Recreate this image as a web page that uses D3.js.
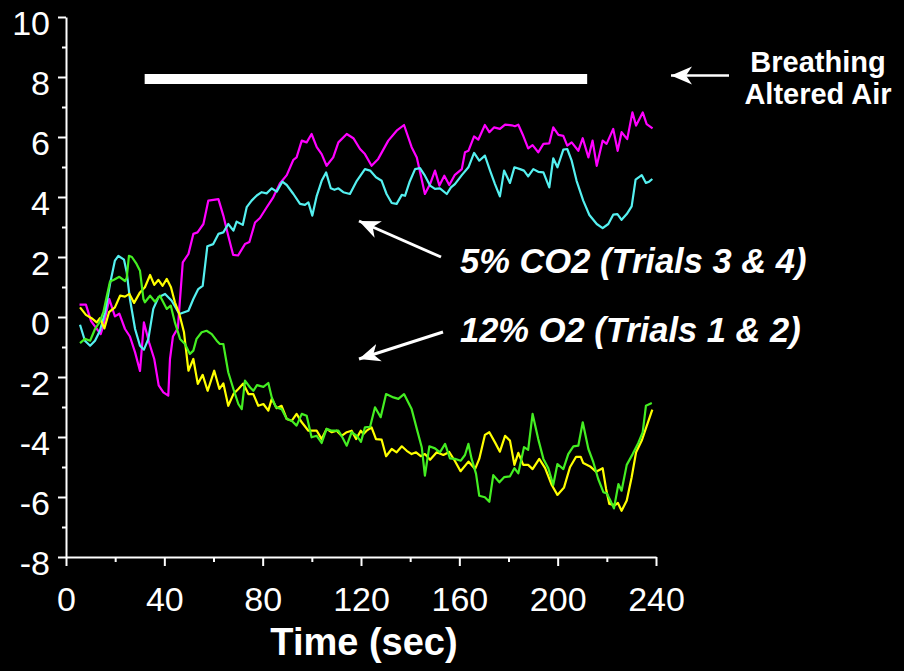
<!DOCTYPE html>
<html>
<head>
<meta charset="utf-8">
<script src="https://cdn.jsdelivr.net/npm/d3@7"></script>
<style>
  html, body { margin: 0; padding: 0; background: #000; }
  svg { display: block; }
</style>
</head>
<body>
<div id="chart"></div>
<script>
// ---------- data (time in sec, value) ----------
const xTicks = [0, 40, 80, 120, 160, 200, 240];
const xMinorTicks = [20, 60, 100, 140, 180, 220];
const yTicks = [-8, -6, -4, -2, 0, 2, 4, 6, 8, 10];
const yMinorTicks = [-7, -5, -3, -1, 1, 3, 5, 7, 9];

const barStart = 32, barEnd = 212, barLevel = 7.93;

// 5% CO2 trial (magenta)
const co2TrialA = [[5.5,0.41],[8.1,0.41],[10.2,-0.14],[12.3,-0.37],[14.1,-0.57],[15.2,-0.29],[17.6,0.6],[19.9,0.02],[21.7,0.11],[24,-0.4],[26,-0.65],[28.1,-1.18],[30.1,-1.8],[31.7,-0.18],[33.8,-0.85],[35.9,-1.4],[37.7,-2.28],[39.6,-2.51],[41.6,-2.62],[42.3,-1.4],[43.5,-0.65],[45.5,-0.37],[47.5,1.82],[49.8,2.1],[51.8,2.77],[53.5,2.82],[55.9,3.1],[57.9,3.88],[62,3.93],[64,3.38],[66,2.71],[68,2.07],[70,2.05],[72.8,2.43],[74.6,2.5],[76.9,3.15],[78.9,3.3],[81.6,3.65],[84.3,3.99],[87,4.45],[89.8,4.73],[92.5,5.24],[93.8,5.32],[95.9,5.88],[97.9,5.82],[99.9,6.1],[102,5.66],[104,5.43],[106,5.04],[108.7,5.32],[110.8,5.82],[114.2,6.1],[116.9,5.96],[119.6,5.6],[121.6,5.43],[124.3,5.04],[127,5.27],[131.1,5.88],[134.5,6.21],[137.5,6.4],[140.6,5.66],[142.7,5.32],[146,4.1],[148.1,4.43],[150.1,4.88],[151.9,4.38],[153.9,4.71],[155.9,4.4],[158.2,4.74],[161,4.93],[162.3,5.49],[163.7,5.54],[166,6.02],[167.7,5.91],[170.4,6.4],[172.2,6.16],[174.1,6.32],[176.5,6.27],[178.6,6.41],[181.3,6.39],[182.6,6.36],[184,6.41],[186,6.04],[188,5.62],[189.8,5.73],[192.1,5.49],[194.2,5.77],[196.6,5.79],[198.2,6.32],[200.3,6.07],[202.3,6.04],[203.9,5.71],[205.7,5.82],[208.4,5.54],[210.2,5.96],[212.5,5.32],[214.2,5.88],[215.9,5.04],[218.3,5.88],[219.9,5.77],[222.6,6.27],[224.4,5.54],[226,6.16],[228.3,5.93],[230.4,6.82],[231.9,6.38],[234.6,6.82],[236.2,6.43],[238.6,6.29]];

// 5% CO2 trial (cyan)
const co2TrialB = [[5.7,-0.26],[7.7,-0.79],[9.8,-0.96],[11.8,-0.79],[13.8,-0.46],[15.9,0.16],[17.9,1.1],[19.9,1.88],[21.3,2.04],[23.6,1.91],[24.7,1.49],[26,0.6],[28.1,-0.4],[30.1,-0.96],[31.7,-1.09],[33.5,-0.73],[35.5,0.27],[37.6,0.66],[40.3,0.77],[43,0.54],[46.1,0.1],[49.8,0.21],[51.8,0.6],[53.8,0.93],[55.6,1.04],[57.5,2.36],[59.9,2.43],[62,2.77],[64,2.82],[66,3.1],[68.1,2.88],[69.4,3.18],[71.9,3.07],[73.5,3.66],[75.5,3.88],[77.6,4.05],[79.6,4.16],[81.6,4.12],[83.7,4.29],[85.7,4.18],[88,4.51],[89.8,4.4],[92.5,4.1],[95.2,3.77],[97.2,3.74],[98.6,3.82],[100.2,3.38],[102,4.04],[104,4.54],[105.8,4.82],[107.7,4.29],[109.2,4.24],[110.8,4.29],[112.8,4.16],[115.5,4.1],[118.3,4.54],[121.6,4.93],[123.7,4.88],[126.1,4.66],[128.4,4.54],[130.4,4.1],[132.5,3.8],[134.5,3.77],[136.6,4.07],[137.9,4.04],[139.7,4.49],[142,4.93],[144,4.96],[146,4.71],[148.1,4.38],[150.1,4.27],[152.1,4.29],[154.9,4.1],[156.6,4.32],[158.2,4.43],[161,4.73],[163.7,4.99],[166,5.47],[168.1,5.21],[170.4,5.38],[172.5,4.88],[174.5,4.43],[176.5,4.02],[178.2,4.88],[180.6,4.47],[182.4,4.99],[184.7,4.93],[186.3,4.88],[188,4.69],[190.1,4.93],[192.1,4.84],[194.2,4.82],[196.6,4.32],[198.2,5.29],[199.9,4.99],[202.3,5.58],[203.9,5.6],[205.7,5.21],[207.7,4.54],[210.4,3.88],[212.9,3.4],[215.9,3.1],[218.3,2.96],[220.6,3.1],[222.6,3.41],[224.3,3.43],[226,3.24],[228.1,3.43],[230.1,3.69],[231.7,4.58],[234.2,4.73],[235.9,4.47],[237.2,4.51],[238.5,4.6]];

// 12% O2 trial (yellow)
const o2TrialA = [[5.7,0.32],[8.1,0.07],[10.4,-0.04],[12.5,-0.18],[13.8,-0.04],[15.6,-0.38],[17.5,0.16],[19.9,0.32],[22,0.71],[24,0.68],[25.8,0.77],[27.7,0.47],[30.1,0.82],[32.1,0.99],[34.2,1.4],[35.9,1.07],[37.6,1.24],[39.3,1.04],[41,1.27],[42.7,0.99],[44.3,0.49],[46.1,0.1],[48,-0.51],[49.8,-1.79],[51.8,-1.4],[53.6,-2.23],[55.6,-1.93],[57.6,-2.46],[60.3,-1.79],[62.4,-2.4],[64,-2.21],[66,-2.96],[68.1,-2.57],[70.1,-2.4],[72.1,-2.22],[74.2,-2.57],[76.2,-2.57],[78.2,-2.96],[80.3,-2.9],[82.3,-3.12],[83.7,-2.73],[85.7,-3.04],[87.7,-2.96],[89.8,-3.4],[91.8,-3.46],[93.8,-3.23],[95.9,-3.51],[98.6,-3.79],[102,-3.79],[104,-4.07],[106,-3.73],[108.1,-3.84],[110.1,-3.79],[112.1,-3.96],[114.2,-3.84],[116.2,-3.79],[118,-4.07],[119.9,-3.79],[121,-3.9],[122.3,-3.79],[124.3,-3.68],[126.1,-4.07],[128.4,-4.09],[130.2,-4.64],[132.5,-4.4],[134.5,-4.51],[136.6,-4.31],[138.6,-4.46],[140.6,-4.57],[142.4,-4.51],[144.3,-4.64],[146,-4.57],[148.1,-4.76],[150.8,-4.51],[153.5,-4.6],[155.9,-4.5],[158.2,-4.8],[160.5,-5.14],[163.7,-4.82],[166.4,-5.07],[168.1,-4.73],[170.4,-3.93],[172.2,-3.84],[174.5,-4.18],[176.5,-4.49],[178.6,-3.96],[180.6,-4.12],[182.4,-4.93],[184,-4.53],[186,-4.93],[188,-4.93],[189.8,-5.07],[192.5,-4.73],[194.9,-5.04],[197.6,-5.6],[199.9,-5.93],[202.6,-5.68],[205,-5.01],[207.5,-4.66],[209.4,-4.66],[210.4,-4.87],[213.2,-4.98],[215.6,-5.16],[218.3,-5.04],[219.7,-5.73],[221,-6.23],[223.3,-6.27],[224.5,-6.2],[226,-6.46],[228.1,-6.12],[230.1,-5.34],[231.9,-4.51],[234.2,-4.12],[236.2,-3.64],[238.5,-3.09]];

// 12% O2 trial (green)
const o2TrialB = [[5.7,-0.87],[7.7,-0.73],[9.8,-0.79],[11.8,-0.4],[13.6,-0.18],[15.2,0.16],[16.5,0.66],[17.9,1.18],[19.5,1.24],[21.7,1.34],[24,1.2],[24.7,1.3],[25.6,2.04],[26.8,2.0],[28.7,1.77],[30.1,1.54],[31.5,0.6],[32.1,0.49],[34.2,0.71],[36.2,0.51],[38.2,0.71],[41,0.27],[42.6,0.38],[44.3,-0.18],[46.4,-0.73],[48.4,-0.9],[50.4,-1.23],[51.8,-1.12],[53.1,-0.73],[55.2,-0.51],[57.2,-0.46],[59.3,-0.57],[61.3,-0.79],[62.6,-0.9],[64,-0.9],[66,-1.84],[68.1,-2.4],[70.1,-2.9],[71.5,-3.07],[72.8,-2.12],[74.9,-2.35],[76.2,-2.46],[77.7,-2.27],[80.3,-2.33],[82.3,-2.2],[83.7,-2.68],[85.4,-3.01],[87.7,-3.07],[89.8,-3.4],[91.8,-3.46],[93.8,-3.62],[95.9,-3.23],[97.9,-3.29],[99.9,-4.01],[102,-3.96],[104,-4.2],[106,-3.73],[108.1,-3.79],[110.8,-3.79],[112.1,-3.96],[114.2,-4.29],[116.2,-3.84],[118.3,-3.96],[120,-4.16],[121.6,-3.68],[123.7,-3.66],[125.7,-3.01],[128,-3.34],[130.2,-2.57],[133.2,-2.68],[135.2,-2.73],[137.5,-2.57],[140.6,-3.07],[142.7,-3.73],[144.7,-4.34],[146,-5.29],[147.8,-4.31],[150.1,-4.38],[152.1,-4.51],[154.2,-4.23],[156.2,-4.71],[158.2,-4.73],[160.6,-4.79],[162.3,-4.6],[163.7,-4.23],[165,-4.73],[166.8,-5.23],[168.1,-5.96],[170.4,-6.01],[172.2,-6.16],[173.8,-5.27],[176.3,-5.51],[178.2,-5.34],[180.6,-5.31],[182.4,-5.04],[184,-5.21],[186.3,-4.34],[188,-4.43],[189.8,-3.23],[192.1,-4.07],[194.2,-4.73],[196.2,-5.04],[198.2,-5.6],[199.9,-4.9],[202.3,-5.07],[204.3,-4.57],[206.4,-4.31],[208.4,-4.29],[210.2,-3.51],[212.5,-4.4],[214.5,-4.84],[216.5,-5.4],[218.6,-5.84],[220,-5.88],[221.3,-6.09],[222.9,-6.38],[224.7,-5.57],[226,-5.79],[228.1,-4.93],[230.5,-4.57],[232.8,-4.2],[234.6,-3.84],[235.9,-2.96],[238.3,-2.87]];

const seriesList = [
  { data: co2TrialA, color: "#ff00ff" },
  { data: co2TrialB, color: "#55f0f0" },
  { data: o2TrialA,  color: "#ffff00" },
  { data: o2TrialB,  color: "#44ee22" }
];

// ---------- layout ----------
const W = 904, H = 671;
const FONT = "'Liberation Sans', Arial, Helvetica, sans-serif";

const x = d3.scaleLinear().domain([0, 240]).range([66, 656]);
const y = d3.scaleLinear().domain([-8, 10]).range([557, 17]);

const svg = d3.select("#chart").append("svg")
  .attr("width", W).attr("height", H)
  .style("background", "#000");

svg.append("rect").attr("width", W).attr("height", H).attr("fill", "#000");

const defs = svg.append("defs");
defs.append("marker")
  .attr("id", "arrowhead")
  .attr("markerUnits", "userSpaceOnUse")
  .attr("viewBox", "0 0 22 20")
  .attr("markerWidth", 22).attr("markerHeight", 20)
  .attr("refX", 21).attr("refY", 10)
  .attr("orient", "auto")
  .append("path")
  .attr("d", "M21,10 L0,1 L6,10 L0,19 Z")
  .attr("fill", "#fff");

// ---------- axes ----------
const plainNum = d => String(d);
const yAxis = svg.append("g")
  .attr("transform", `translate(${x(0)},0)`)
  .call(d3.axisLeft(y).tickValues(yTicks).tickSize(8).tickSizeOuter(0).tickPadding(8).tickFormat(plainNum));
svg.append("g")
  .attr("transform", `translate(${x(0)},0)`)
  .call(d3.axisLeft(y).tickValues(yMinorTicks).tickSize(4).tickSizeOuter(0).tickFormat(""))
  .select(".domain").remove();

const xAxis = svg.append("g")
  .attr("transform", `translate(0,${y(-8)})`)
  .call(d3.axisBottom(x).tickValues(xTicks).tickSize(9).tickSizeOuter(0).tickPadding(21).tickFormat(plainNum));
svg.append("g")
  .attr("transform", `translate(0,${y(-8)})`)
  .call(d3.axisBottom(x).tickValues(xMinorTicks).tickSize(5).tickSizeOuter(0).tickFormat(""))
  .select(".domain").remove();

svg.selectAll(".domain").attr("stroke", "#fff").attr("stroke-width", 2);
svg.selectAll(".tick line").attr("stroke", "#fff").attr("stroke-width", 2);
svg.selectAll(".tick text")
  .attr("fill", "#fff")
  .style("font-family", FONT)
  .style("font-size", "34px");
yAxis.selectAll(".tick text").attr("dy", "0.5em");

svg.append("text")
  .attr("x", 364).attr("y", 655)
  .attr("text-anchor", "middle")
  .attr("fill", "#fff")
  .style("font-family", FONT).style("font-weight", "bold").style("font-size", "38px")
  .text("Time (sec)");

// ---------- stimulus bar ----------
svg.append("line")
  .attr("x1", x(barStart)).attr("x2", x(barEnd))
  .attr("y1", y(barLevel)).attr("y2", y(barLevel))
  .attr("stroke", "#fff").attr("stroke-width", 10);

// ---------- lines ----------
const line = d3.line().x(d => x(d[0])).y(d => y(d[1]));
seriesList.forEach(s => {
  svg.append("path")
    .datum(s.data)
    .attr("d", line)
    .attr("fill", "none")
    .attr("stroke", s.color)
    .attr("stroke-width", 2.2)
    .attr("stroke-linejoin", "round");
});

// ---------- annotations ----------
function arrow(x1, y1, x2, y2, w) {
  svg.append("line")
    .attr("x1", x1).attr("y1", y1).attr("x2", x2).attr("y2", y2)
    .attr("stroke", "#fff").attr("stroke-width", w)
    .attr("marker-end", "url(#arrowhead)");
}
arrow(729, 75.5, 671, 75.5, 2.5);
arrow(441, 257, 359, 221, 3);
arrow(443, 332, 359, 359, 3);

const brk = svg.append("text")
  .attr("text-anchor", "middle")
  .attr("fill", "#fff")
  .style("font-family", FONT).style("font-weight", "bold").style("font-size", "29px");
brk.append("tspan").attr("x", 818).attr("y", 72).text("Breathing");
brk.append("tspan").attr("x", 818).attr("y", 104).text("Altered Air");

svg.append("text")
  .attr("x", 460).attr("y", 273)
  .attr("fill", "#fff")
  .style("font-family", FONT).style("font-weight", "bold").style("font-style", "italic").style("font-size", "34.5px")
  .text("5% CO2 (Trials 3 & 4)");
svg.append("text")
  .attr("x", 460).attr("y", 342)
  .attr("fill", "#fff")
  .style("font-family", FONT).style("font-weight", "bold").style("font-style", "italic").style("font-size", "34.5px")
  .text("12% O2 (Trials 1 & 2)");
</script>
</body>
</html>
